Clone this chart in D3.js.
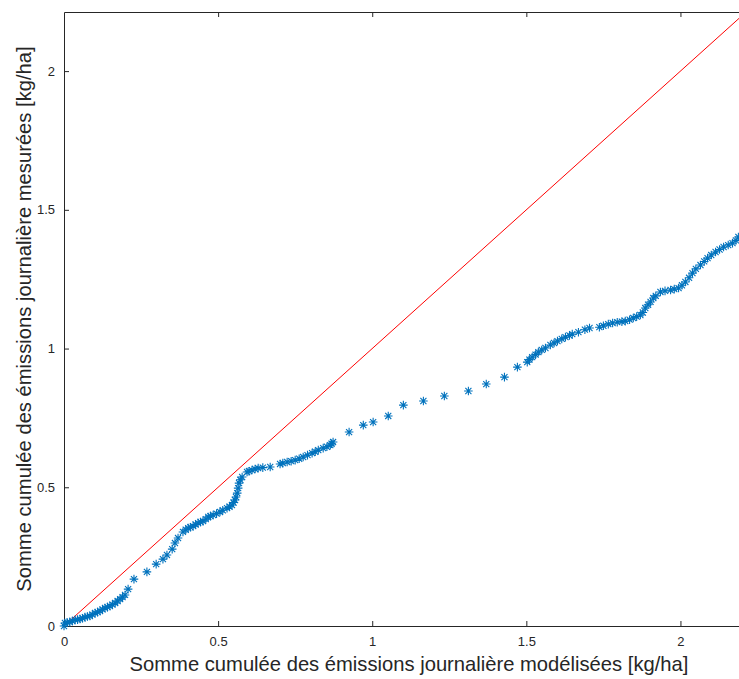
<!DOCTYPE html>
<html>
<head>
<meta charset="utf-8">
<script src="https://cdn.jsdelivr.net/npm/d3@7"></script>
<style>
  html, body { margin: 0; padding: 0; background: #fff; }
  svg { display: block; font-family: "Liberation Sans", Arial, sans-serif; }
</style>
</head>
<body>
<script>
// cumulated daily emissions, modelled (x) vs measured (y), kg/ha
const emisModel = [
  0, 0.003, 0.01, 0.019, 0.027, 0.036, 0.044, 0.052, 0.06, 0.068, 0.076, 0.084, 0.092, 0.101,
  0.109, 0.117, 0.125, 0.133, 0.141, 0.149, 0.157, 0.166, 0.174, 0.182, 0.19, 0.198, 0.208,
  0.227, 0.269, 0.299, 0.321, 0.334, 0.351, 0.36, 0.37, 0.386, 0.395, 0.403, 0.41, 0.419,
  0.427, 0.435, 0.443, 0.451, 0.46, 0.468, 0.475, 0.484, 0.495, 0.506, 0.515, 0.529, 0.537,
  0.545, 0.55, 0.555, 0.558, 0.562, 0.565, 0.568, 0.572, 0.578, 0.594, 0.6, 0.61, 0.62,
  0.63, 0.645, 0.669, 0.701, 0.71, 0.724, 0.737, 0.75, 0.763, 0.776, 0.79, 0.805, 0.815,
  0.825, 0.841, 0.853, 0.864, 0.868, 0.873, 0.925, 0.971, 1.003, 1.052, 1.101, 1.166, 1.234,
  1.312, 1.37, 1.429, 1.471, 1.503, 1.51, 1.519, 1.53, 1.539, 1.55, 1.562, 1.578, 1.59,
  1.601, 1.615, 1.627, 1.64, 1.649, 1.669, 1.69, 1.705, 1.737, 1.75, 1.766, 1.78, 1.795,
  1.81, 1.821, 1.835, 1.847, 1.858, 1.87, 1.878, 1.886, 1.895, 1.903, 1.912, 1.92, 1.935,
  1.95, 1.968, 1.98, 1.994, 2.005, 2.016, 2.028, 2.039, 2.05, 2.065, 2.077, 2.088, 2.1,
  2.114, 2.127, 2.14, 2.155, 2.169, 2.18, 2.188
];
const emisMesure = [
  0, 0.011, 0.013, 0.014, 0.018, 0.022, 0.023, 0.025, 0.028, 0.032, 0.034, 0.036, 0.041, 0.047,
  0.05, 0.054, 0.06, 0.065, 0.068, 0.072, 0.077, 0.083, 0.09, 0.097, 0.104, 0.112, 0.133,
  0.169, 0.195, 0.223, 0.241, 0.256, 0.277, 0.299, 0.317, 0.339, 0.347, 0.353, 0.356, 0.36,
  0.366, 0.371, 0.375, 0.378, 0.385, 0.393, 0.396, 0.4, 0.405, 0.411, 0.417, 0.425, 0.43,
  0.436, 0.445, 0.454, 0.465, 0.479, 0.497, 0.515, 0.527, 0.537, 0.555, 0.558, 0.562, 0.566,
  0.569, 0.571, 0.573, 0.584, 0.587, 0.591, 0.594, 0.598, 0.603, 0.609, 0.616, 0.623, 0.628,
  0.634, 0.641, 0.646, 0.652, 0.657, 0.663, 0.699, 0.724, 0.735, 0.757, 0.796, 0.811, 0.829,
  0.847, 0.872, 0.897, 0.933, 0.951, 0.96, 0.969, 0.978, 0.987, 0.995, 1.002, 1.013, 1.02,
  1.027, 1.035, 1.041, 1.047, 1.052, 1.059, 1.068, 1.074, 1.077, 1.082, 1.088, 1.092, 1.095,
  1.097, 1.099, 1.104, 1.11, 1.115, 1.121, 1.13, 1.146, 1.158, 1.168, 1.182, 1.19, 1.204,
  1.208, 1.211, 1.214, 1.218, 1.228, 1.24, 1.255, 1.272, 1.287, 1.301, 1.314, 1.326, 1.337,
  1.348, 1.357, 1.366, 1.373, 1.38, 1.39, 1.402
];
const xTicks = [0, 0.5, 1, 1.5, 2];
const yTicks = [0, 0.5, 1, 1.5, 2];
const xLabel = "Somme cumulée des émissions journalière modélisées [kg/ha]";
const yLabel = "Somme cumulée des émissions journalière mesurées [kg/ha]";

const W = 739, H = 679;
const mg = { l: 64, t: 12, r: 0, b: 53 };
const axCol = "#262626";

const svg = d3.select("body").append("svg").attr("width", W).attr("height", H);

const x = d3.scaleLinear().domain([0, 2.19]).range([mg.l, W - mg.r]);
const y = d3.scaleLinear().domain([0, 2.213]).range([H - mg.b, mg.t]);

// axes (MATLAB look: ticks inside, box on)
const xAx = svg.append("g").attr("transform", `translate(0,${y(0)})`)
  .call(d3.axisBottom(x).tickValues(xTicks).tickSizeInner(-5).tickSizeOuter(0).tickPadding(11)
    .tickFormat(d3.format("")));
const xTop = svg.append("g").attr("transform", `translate(0,${y.range()[1]})`)
  .call(d3.axisTop(x).tickValues(xTicks).tickSizeInner(-5).tickSizeOuter(0).tickFormat(""));
const yAx = svg.append("g").attr("transform", `translate(${x(0)},0)`)
  .call(d3.axisLeft(y).tickValues(yTicks).tickSizeInner(-5).tickSizeOuter(0).tickPadding(9)
    .tickFormat(d3.format("")));

[xAx, xTop, yAx].forEach(g => {
  g.select(".domain").attr("stroke", axCol).attr("stroke-width", 1);
  g.selectAll(".tick line").attr("stroke", axCol);
  g.selectAll(".tick text").attr("fill", axCol).style("font-size", "13px");
});
xTop.selectAll(".tick").filter(d => d === 0).remove();

// reference line y = x
svg.append("line")
  .attr("x1", x(0)).attr("y1", y(0))
  .attr("x2", x(2.19)).attr("y2", y(2.19))
  .attr("stroke", "#ff0000").attr("stroke-width", 1);

// asterisk markers
const pts = emisModel.map((v, i) => [v, emisMesure[i]]);
const r = 4.3;
const d45 = r * Math.SQRT1_2;
const star = `M${-r},0H${r}M0,${-r}V${r}M${-d45},${-d45}L${d45},${d45}M${-d45},${d45}L${d45},${-d45}`;
svg.append("g")
  .selectAll("path")
  .data(pts)
  .join("path")
  .attr("transform", d => `translate(${x(d[0])},${y(d[1])})`)
  .attr("d", star)
  .attr("fill", "none")
  .attr("stroke", "#0072bd")
  .attr("stroke-width", 1.1);

// axis labels
svg.append("text")
  .attr("x", 409).attr("y", 671)
  .attr("text-anchor", "middle")
  .attr("fill", axCol)
  .style("font-size", "20.2px")
  .text(xLabel);

svg.append("text")
  .attr("transform", `translate(31,${(y.range()[0] + y.range()[1]) / 2}) rotate(-90)`)
  .attr("text-anchor", "middle")
  .attr("fill", axCol)
  .style("font-size", "20.2px")
  .text(yLabel);
</script>
</body>
</html>
